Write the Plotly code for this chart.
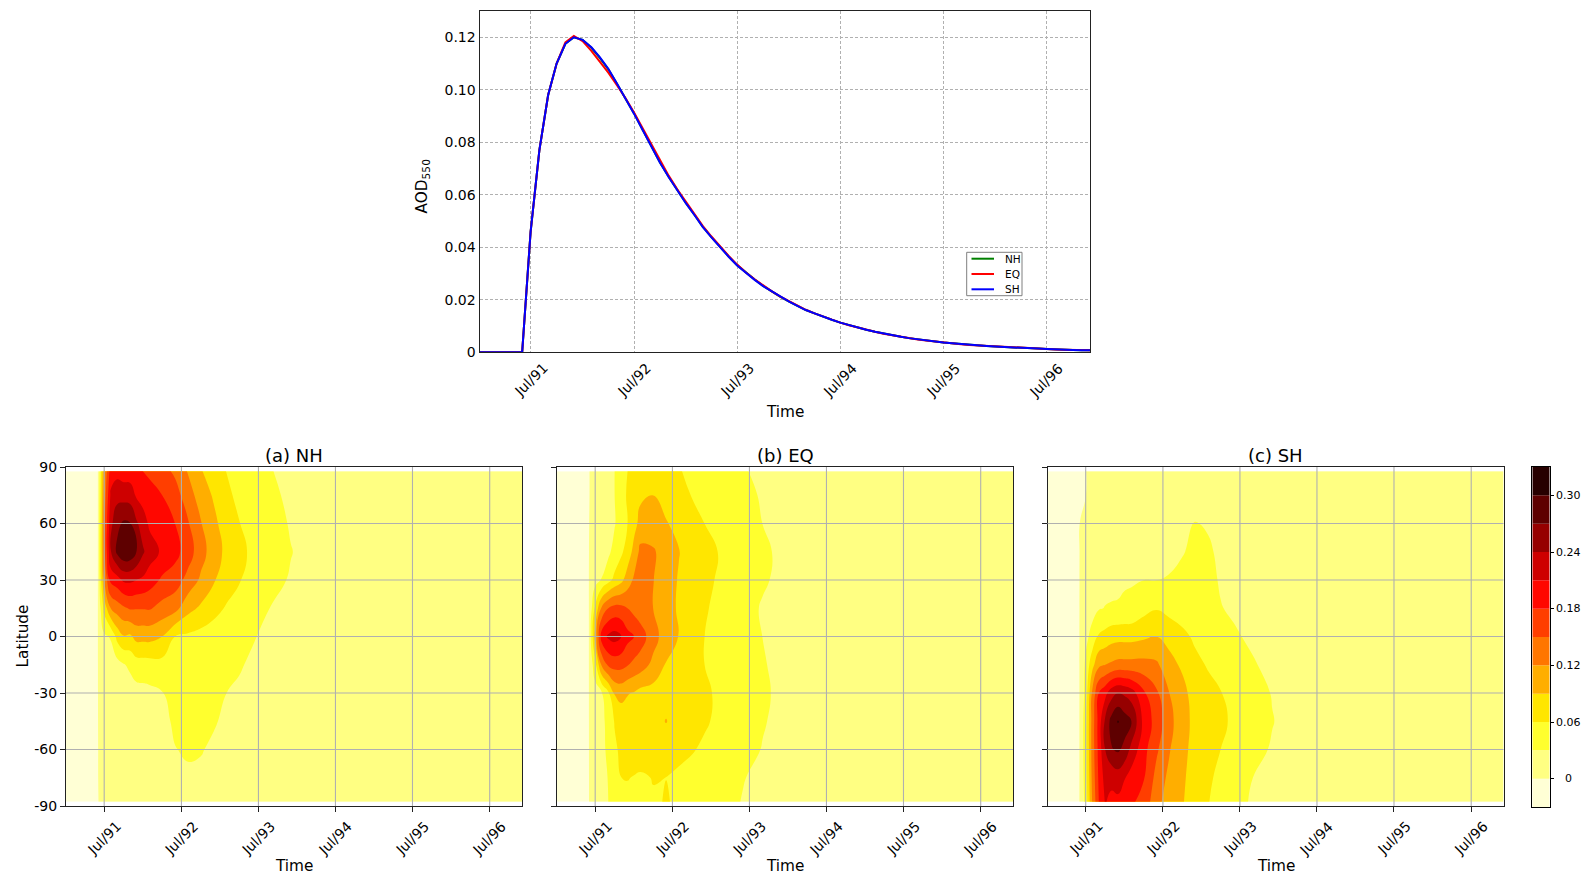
import numpy as np
import pandas as pd
import plotly.graph_objects as go

W, H = 1582, 876
FONT = "DejaVu Sans"


def px_x(v):
    return v / W


def px_y(v):
    return 1 - v / H


# ---------------- global-mean AOD (550 nm), monthly Jan 1991 - Dec 1996 ----------------
months = pd.date_range("1991-01-01", "1996-12-01", freq="MS")

aod_nh = [
    0, 0, 0, 0, 0, 0, 0.0460, 0.0770, 0.0980, 0.1100, 0.1175, 0.1200,
    0.1190, 0.1160, 0.1122, 0.1078, 0.1024, 0.0968, 0.0910, 0.0847, 0.0784, 0.0723, 0.0668, 0.0617,
    0.0568, 0.0522, 0.0479, 0.0439, 0.0402, 0.0365, 0.0332, 0.0303, 0.0277, 0.0253, 0.0231, 0.0211,
    0.0193, 0.0176, 0.0161, 0.0148, 0.0135, 0.0124, 0.0113, 0.0103, 0.0094, 0.0086, 0.0078, 0.0071,
    0.0065, 0.0059, 0.0054, 0.0049, 0.0045, 0.0041, 0.0037, 0.0034, 0.0031, 0.0028, 0.0026, 0.0024,
    0.0022, 0.0020, 0.0018, 0.0016, 0.0015, 0.0014, 0.0013, 0.0011, 0.0010, 0.0009, 0.0008, 0.0008,
]
aod_eq = [
    0, 0, 0, 0, 0, 0, 0.0460, 0.0770, 0.0980, 0.1100, 0.1180, 0.1205,
    0.1185, 0.1148, 0.1108, 0.1065, 0.1018, 0.0968, 0.0913, 0.0852, 0.0789, 0.0728, 0.0672, 0.0621,
    0.0572, 0.0525, 0.0482, 0.0441, 0.0404, 0.0367, 0.0334, 0.0304, 0.0278, 0.0254, 0.0232, 0.0212,
    0.0194, 0.0177, 0.0162, 0.0148, 0.0136, 0.0124, 0.0113, 0.0103, 0.0094, 0.0086, 0.0078, 0.0071,
    0.0065, 0.0059, 0.0054, 0.0049, 0.0045, 0.0041, 0.0037, 0.0034, 0.0031, 0.0028, 0.0026, 0.0024,
    0.0022, 0.0020, 0.0018, 0.0016, 0.0015, 0.0014, 0.0013, 0.0011, 0.0010, 0.0009, 0.0008, 0.0008,
]
aod_sh = [
    0, 0, 0, 0, 0, 0, 0.0460, 0.0770, 0.0980, 0.1100, 0.1175, 0.1200,
    0.1190, 0.1162, 0.1125, 0.1080, 0.1025, 0.0968, 0.0909, 0.0846, 0.0783, 0.0722, 0.0667, 0.0616,
    0.0567, 0.0521, 0.0478, 0.0438, 0.0401, 0.0364, 0.0331, 0.0302, 0.0276, 0.0252, 0.0231, 0.0211,
    0.0193, 0.0176, 0.0161, 0.0148, 0.0135, 0.0124, 0.0113, 0.0103, 0.0094, 0.0086, 0.0078, 0.0071,
    0.0065, 0.0059, 0.0054, 0.0049, 0.0045, 0.0041, 0.0037, 0.0034, 0.0031, 0.0028, 0.0026, 0.0024,
    0.0022, 0.0020, 0.0018, 0.0016, 0.0015, 0.0014, 0.0013, 0.0011, 0.0010, 0.0009, 0.0008, 0.0008,
]
series_names = ["NH", "EQ", "SH"]
series_colors = ["#008000", "#ff0000", "#0000ff"]

# ---------------- zonal-mean AOD (latitude x time) for the three injection cases ----------------
lat_nodes = [-87.8, -75, -60, -45, -30, -15, 0, 15, 30, 45, 60, 75, 87.8]
field_dates = [
    "1991-01-01", "1991-06-01", "1991-07-01", "1991-08-01", "1991-09-01", "1991-10-01",
    "1991-11-01", "1991-12-01", "1992-01-01", "1992-02-01", "1992-04-01", "1992-06-01",
    "1992-08-01", "1992-10-01", "1992-12-01", "1993-02-01", "1993-04-01", "1993-06-01",
    "1993-09-01", "1993-12-01", "1994-04-01", "1996-12-01",
]

# one row per date, values ordered south -> north
field_nh = [
    [0, 0, 0, 0, 0, 0, 0, 0, 0, 0, 0, 0, 0],
    [0, 0, 0, 0, 0, 0, 0, 0, 0, 0, 0, 0, 0],
    [0.001, 0.002, 0.002, 0.003, 0.004, 0.008, 0.025, 0.070, 0.120, 0.140, 0.140, 0.130, 0.120],
    [0.002, 0.003, 0.004, 0.005, 0.008, 0.012, 0.033, 0.120, 0.190, 0.238, 0.232, 0.215, 0.195],
    [0.003, 0.003, 0.004, 0.006, 0.010, 0.019, 0.070, 0.135, 0.198, 0.278, 0.262, 0.230, 0.200],
    [0.003, 0.004, 0.005, 0.008, 0.014, 0.028, 0.088, 0.145, 0.215, 0.296, 0.275, 0.228, 0.195],
    [0.004, 0.005, 0.006, 0.009, 0.016, 0.036, 0.085, 0.153, 0.216, 0.293, 0.272, 0.226, 0.195],
    [0.005, 0.006, 0.008, 0.011, 0.020, 0.046, 0.100, 0.152, 0.210, 0.272, 0.245, 0.206, 0.185],
    [0.005, 0.006, 0.008, 0.012, 0.021, 0.047, 0.100, 0.152, 0.205, 0.244, 0.224, 0.198, 0.180],
    [0.006, 0.007, 0.009, 0.013, 0.023, 0.048, 0.100, 0.153, 0.195, 0.225, 0.205, 0.190, 0.175],
    [0.008, 0.010, 0.013, 0.020, 0.029, 0.050, 0.090, 0.140, 0.175, 0.205, 0.193, 0.180, 0.160],
    [0.015, 0.020, 0.029, 0.036, 0.040, 0.045, 0.060, 0.130, 0.165, 0.190, 0.180, 0.162, 0.145],
    [0.020, 0.025, 0.034, 0.038, 0.042, 0.047, 0.055, 0.100, 0.140, 0.165, 0.153, 0.135, 0.118],
    [0.019, 0.024, 0.032, 0.037, 0.041, 0.045, 0.050, 0.085, 0.115, 0.132, 0.122, 0.105, 0.092],
    [0.016, 0.020, 0.025, 0.033, 0.038, 0.041, 0.045, 0.070, 0.093, 0.105, 0.097, 0.087, 0.078],
    [0.012, 0.015, 0.019, 0.024, 0.030, 0.036, 0.042, 0.057, 0.074, 0.082, 0.076, 0.067, 0.059],
    [0.011, 0.013, 0.016, 0.021, 0.027, 0.032, 0.036, 0.047, 0.062, 0.068, 0.061, 0.052, 0.045],
    [0.010, 0.011, 0.014, 0.018, 0.023, 0.027, 0.032, 0.041, 0.051, 0.055, 0.049, 0.042, 0.037],
    [0.008, 0.009, 0.011, 0.014, 0.017, 0.020, 0.024, 0.029, 0.037, 0.042, 0.040, 0.035, 0.031],
    [0.006, 0.007, 0.009, 0.011, 0.013, 0.015, 0.018, 0.022, 0.028, 0.031, 0.028, 0.025, 0.022],
    [0.005, 0.006, 0.007, 0.008, 0.009, 0.011, 0.012, 0.015, 0.019, 0.020, 0.019, 0.017, 0.015],
    [0.001, 0.001, 0.001, 0.001, 0.001, 0.001, 0.001, 0.001, 0.001, 0.001, 0.001, 0.001, 0.001],
]
field_eq = [
    [0, 0, 0, 0, 0, 0, 0, 0, 0, 0, 0, 0, 0],
    [0, 0, 0, 0, 0, 0, 0, 0, 0, 0, 0, 0, 0],
    [0.004, 0.005, 0.007, 0.009, 0.016, 0.050, 0.100, 0.065, 0.020, 0.005, 0.002, 0.001, 0.001],
    [0.012, 0.015, 0.020, 0.022, 0.028, 0.125, 0.195, 0.125, 0.032, 0.012, 0.005, 0.004, 0.003],
    [0.030, 0.032, 0.038, 0.040, 0.055, 0.155, 0.215, 0.150, 0.050, 0.024, 0.015, 0.013, 0.012],
    [0.045, 0.050, 0.055, 0.062, 0.093, 0.162, 0.222, 0.160, 0.068, 0.040, 0.028, 0.030, 0.030],
    [0.052, 0.060, 0.066, 0.072, 0.100, 0.160, 0.212, 0.158, 0.082, 0.055, 0.045, 0.050, 0.048],
    [0.054, 0.061, 0.070, 0.075, 0.092, 0.152, 0.190, 0.150, 0.105, 0.072, 0.060, 0.063, 0.060],
    [0.055, 0.059, 0.071, 0.076, 0.088, 0.142, 0.180, 0.140, 0.125, 0.100, 0.080, 0.075, 0.068],
    [0.055, 0.057, 0.072, 0.077, 0.080, 0.135, 0.165, 0.132, 0.128, 0.128, 0.100, 0.085, 0.075],
    [0.058, 0.061, 0.072, 0.078, 0.078, 0.112, 0.132, 0.120, 0.121, 0.124, 0.100, 0.090, 0.077],
    [0.061, 0.060, 0.070, 0.0915, 0.076, 0.088, 0.105, 0.100, 0.102, 0.105, 0.092, 0.080, 0.069],
    [0.058, 0.056, 0.066, 0.075, 0.074, 0.078, 0.089, 0.087, 0.088, 0.091, 0.082, 0.070, 0.062],
    [0.050, 0.052, 0.062, 0.070, 0.070, 0.068, 0.073, 0.075, 0.076, 0.080, 0.071, 0.059, 0.054],
    [0.045, 0.047, 0.056, 0.063, 0.064, 0.060, 0.060, 0.063, 0.066, 0.070, 0.060, 0.052, 0.048],
    [0.040, 0.042, 0.050, 0.056, 0.057, 0.054, 0.051, 0.054, 0.058, 0.060, 0.052, 0.046, 0.042],
    [0.034, 0.037, 0.044, 0.049, 0.050, 0.047, 0.044, 0.046, 0.050, 0.052, 0.045, 0.041, 0.037],
    [0.029, 0.031, 0.039, 0.043, 0.044, 0.040, 0.038, 0.039, 0.043, 0.045, 0.040, 0.036, 0.032],
    [0.023, 0.025, 0.029, 0.032, 0.034, 0.032, 0.030, 0.028, 0.033, 0.034, 0.030, 0.028, 0.025],
    [0.018, 0.019, 0.022, 0.024, 0.025, 0.024, 0.022, 0.023, 0.025, 0.026, 0.023, 0.021, 0.019],
    [0.012, 0.013, 0.015, 0.016, 0.017, 0.016, 0.015, 0.016, 0.017, 0.018, 0.016, 0.014, 0.013],
    [0.001, 0.001, 0.001, 0.001, 0.001, 0.001, 0.001, 0.001, 0.001, 0.001, 0.001, 0.001, 0.001],
]
field_sh = [
    [0, 0, 0, 0, 0, 0, 0, 0, 0, 0, 0, 0, 0],
    [0, 0, 0, 0, 0, 0, 0, 0, 0, 0, 0, 0, 0],
    [0.040, 0.045, 0.048, 0.048, 0.040, 0.036, 0.022, 0.010, 0.006, 0.004, 0.002, 0, 0],
    [0.122, 0.128, 0.132, 0.132, 0.125, 0.080, 0.040, 0.020, 0.012, 0.008, 0.005, 0.003, 0.002],
    [0.180, 0.185, 0.190, 0.192, 0.180, 0.113, 0.064, 0.028, 0.020, 0.014, 0.010, 0.007, 0.005],
    [0.212, 0.222, 0.240, 0.245, 0.200, 0.120, 0.070, 0.031, 0.022, 0.017, 0.013, 0.010, 0.007],
    [0.203, 0.218, 0.268, 0.282, 0.228, 0.125, 0.078, 0.032, 0.024, 0.018, 0.015, 0.011, 0.008],
    [0.203, 0.225, 0.275, 0.302, 0.240, 0.130, 0.080, 0.032, 0.026, 0.020, 0.016, 0.012, 0.009],
    [0.193, 0.212, 0.262, 0.285, 0.235, 0.130, 0.080, 0.035, 0.027, 0.021, 0.017, 0.013, 0.010],
    [0.185, 0.198, 0.232, 0.272, 0.225, 0.130, 0.080, 0.036, 0.028, 0.022, 0.018, 0.014, 0.011],
    [0.170, 0.182, 0.190, 0.200, 0.185, 0.130, 0.085, 0.050, 0.030, 0.024, 0.020, 0.016, 0.013],
    [0.130, 0.140, 0.155, 0.168, 0.155, 0.125, 0.090, 0.058, 0.030, 0.026, 0.022, 0.018, 0.015],
    [0.105, 0.112, 0.122, 0.128, 0.120, 0.100, 0.080, 0.050, 0.031, 0.027, 0.023, 0.019, 0.016],
    [0.093, 0.096, 0.100, 0.104, 0.100, 0.085, 0.066, 0.048, 0.035, 0.029, 0.024, 0.020, 0.017],
    [0.070, 0.074, 0.078, 0.080, 0.076, 0.066, 0.056, 0.045, 0.040, 0.034, 0.031, 0.022, 0.018],
    [0.061, 0.064, 0.068, 0.070, 0.067, 0.058, 0.048, 0.040, 0.036, 0.033, 0.028, 0.021, 0.017],
    [0.050, 0.054, 0.060, 0.065, 0.061, 0.050, 0.040, 0.031, 0.028, 0.026, 0.022, 0.018, 0.015],
    [0.042, 0.046, 0.051, 0.056, 0.052, 0.042, 0.033, 0.027, 0.024, 0.022, 0.019, 0.016, 0.013],
    [0.026, 0.030, 0.037, 0.042, 0.039, 0.032, 0.026, 0.021, 0.019, 0.017, 0.015, 0.013, 0.011],
    [0.020, 0.023, 0.028, 0.031, 0.029, 0.024, 0.020, 0.017, 0.015, 0.014, 0.012, 0.010, 0.009],
    [0.013, 0.015, 0.018, 0.020, 0.019, 0.016, 0.013, 0.011, 0.010, 0.009, 0.008, 0.007, 0.006],
    [0.001, 0.001, 0.001, 0.001, 0.001, 0.001, 0.001, 0.001, 0.001, 0.001, 0.001, 0.001, 0.001],
]
panel_titles = ["(a) NH", "(b) EQ", "(c) SH"]

# ---------------- shading levels (hot_r, 12 classes) and ticks ----------------
levels = [-0.03, 0.0, 0.03, 0.06, 0.09, 0.12, 0.15, 0.18, 0.21, 0.24, 0.27, 0.30, 0.33]
band_colors = [
    "rgb(255,255,213)", "rgb(255,255,130)", "rgb(255,255,46)", "rgb(255,230,0)",
    "rgb(255,174,0)", "rgb(255,118,0)", "rgb(255,62,0)", "rgb(255,7,0)",
    "rgb(206,0,0)", "rgb(150,0,0)", "rgb(94,0,0)", "rgb(39,0,0)",
]
cbar_ticks = [0, 0.06, 0.12, 0.18, 0.24, 0.30]
cbar_tick_text = ["0", "0.06", "0.12", "0.18", "0.24", "0.30"]

tick_dates = ["1991-07-01", "1992-07-01", "1993-07-01", "1994-07-01", "1995-07-01", "1996-07-01"]
tick_text = ["Jul/91", "Jul/92", "Jul/93", "Jul/94", "Jul/95", "Jul/96"]
time_range = ["1991-01-01", "1996-12-01"]
lat_ticks = [-90, -60, -30, 0, 30, 60, 90]
lat_tick_text = ["-90", "-60", "-30", "0", "30", "60", "90"]
aod_ticks = [0, 0.02, 0.04, 0.06, 0.08, 0.10, 0.12]
aod_tick_text = ["0", "0.02", "0.04", "0.06", "0.08", "0.10", "0.12"]

# ---------------- layout geometry (pixels) ----------------
top_box = dict(x0=479.5, x1=1090.0, y0=11.0, y1=352.3)
panel_boxes = [
    dict(x0=66.0, x1=522.0, y0=467.0, y1=806.0),
    dict(x0=557.0, x1=1013.0, y0=467.0, y1=806.0),
    dict(x0=1047.5, x1=1503.5, y0=467.0, y1=806.0),
]
cbar_box = dict(x0=1532.3, x1=1549.7, y0=467.0, y1=807.0)

GRID = "#b0b0b0"
AXLINE = "#222222"
TICK_SIZE = 14
LABEL_SIZE = 15.3
TITLE_SIZE = 18

fig = go.Figure()

# ---- top panel: global-mean AOD time series ----
for name, vals, col in zip(series_names, [aod_nh, aod_eq, aod_sh], series_colors):
    fig.add_trace(go.Scatter(
        x=months, y=vals, mode="lines", name=name,
        line=dict(color=col, width=2), showlegend=False,
        xaxis="x", yaxis="y", hoverinfo="skip",
    ))

# ---- contour panels ----
# step colour scale: class b (0 = below first level) sits at fraction b / 11
n_cls = len(band_colors)
step_scale = []
for b, c in enumerate(band_colors):
    lo = max(0.0, (b - 0.5) / (n_cls - 1))
    hi = min(1.0, (b + 0.5) / (n_cls - 1))
    step_scale.append([lo, c])
    step_scale.append([hi, c])

for i, field in enumerate([field_nh, field_eq, field_sh]):
    z = np.array(field).T  # rows = latitude, cols = time
    fig.add_trace(go.Contour(
        x=field_dates, y=lat_nodes, z=z,
        xaxis=f"x{i + 2}", yaxis=f"y{i + 2}",
        contours=dict(start=levels[1] + 1e-4, end=levels[-2] + 1e-4,
                      size=levels[2] - levels[1], coloring="fill", showlines=False),
        colorscale=step_scale, showscale=False,
        line=dict(width=0, smoothing=1.3),
        hoverinfo="skip",
    ))

# ---- colour bar built from the class boundaries ----
fig.add_trace(go.Bar(
    x=[0] * n_cls, y=list(np.diff(levels)), base=levels[:-1],
    marker=dict(color=band_colors, line=dict(width=0)), width=1.0,
    xaxis="x5", yaxis="y5", showlegend=False, hoverinfo="skip",
))

layout = dict(
    width=W, height=H,
    margin=dict(l=0, r=0, t=0, b=0, pad=0, autoexpand=False),
    paper_bgcolor="white", plot_bgcolor="white",
    font=dict(family=FONT, size=TICK_SIZE, color="black"),
    barmode="overlay",
    showlegend=False,
)

common_axis = dict(showline=True, mirror=True, linecolor=AXLINE, linewidth=1,
                   ticks="outside", ticklen=5, tickwidth=1, tickcolor=AXLINE,
                   zeroline=False, automargin=False)

layout["xaxis"] = dict(common_axis, domain=[px_x(top_box["x0"]), px_x(top_box["x1"])],
                       anchor="y", type="date", range=time_range, ticks="",
                       tickvals=tick_dates, showticklabels=False,
                       showgrid=True, gridcolor=GRID, gridwidth=1, griddash="3px,2px")
layout["yaxis"] = dict(common_axis, domain=[px_y(top_box["y1"]), px_y(top_box["y0"])],
                       anchor="x", range=[0, 0.13], ticks="",
                       tickvals=aod_ticks, ticktext=aod_tick_text,
                       tickfont=dict(size=TICK_SIZE),
                       showgrid=True, gridcolor=GRID, gridwidth=1, griddash="3px,2px")

for i, box in enumerate(panel_boxes):
    xa, ya = f"xaxis{i + 2}", f"yaxis{i + 2}"
    layout[xa] = dict(common_axis, domain=[px_x(box["x0"]), px_x(box["x1"])],
                      anchor=f"y{i + 2}", type="date", range=time_range,
                      tickvals=tick_dates, showticklabels=False, showgrid=False)
    layout[ya] = dict(common_axis, domain=[px_y(box["y1"]), px_y(box["y0"])],
                      anchor=f"x{i + 2}", range=[-90, 90],
                      tickvals=lat_ticks, ticktext=lat_tick_text,
                      showticklabels=(i == 0), tickfont=dict(size=TICK_SIZE),
                      showgrid=False)

layout["xaxis5"] = dict(domain=[px_x(cbar_box["x0"]), px_x(cbar_box["x1"])], anchor="y5",
                        range=[-0.5, 0.5], showticklabels=False, ticks="",
                        showline=True, mirror=True, linecolor="black", linewidth=1,
                        showgrid=False, zeroline=False, automargin=False)
layout["yaxis5"] = dict(domain=[px_y(cbar_box["y1"]), px_y(cbar_box["y0"])], anchor="x5",
                        range=[levels[0], levels[-1]], side="right",
                        tickvals=cbar_ticks, showticklabels=False,
                        ticks="outside", ticklen=3, tickwidth=1, tickcolor="black",
                        showline=True, mirror=True, linecolor="black", linewidth=1,
                        showgrid=False, zeroline=False, automargin=False)

shapes = []
annotations = []

# grid lines drawn on top of the shaded fields
for i in range(3):
    xr, yr = f"x{i + 2}", f"y{i + 2}"
    for d in tick_dates:
        shapes.append(dict(type="line", xref=xr, yref=f"{yr} domain", x0=d, x1=d, y0=0, y1=1,
                           line=dict(color=GRID, width=1.1), layer="above"))
    for lt in lat_ticks[1:-1]:
        shapes.append(dict(type="line", xref=f"{xr} domain", yref=yr, x0=0, x1=1, y0=lt, y1=lt,
                           line=dict(color=GRID, width=1.1), layer="above"))

# rotated date labels
for xr, top_px in [("x", 357.5), ("x2", 815.5), ("x3", 815.5), ("x4", 815.5)]:
    for d, t in zip(tick_dates, tick_text):
        annotations.append(dict(text=t, x=d, xref=xr, y=px_y(top_px), yref="paper",
                                xanchor="center", yanchor="top", textangle=-45,
                                showarrow=False, font=dict(size=TICK_SIZE)))

# axis titles
annotations.append(dict(text="Time", x=px_x(785), y=px_y(411.5), xref="paper", yref="paper",
                        xanchor="center", yanchor="middle", showarrow=False,
                        font=dict(size=LABEL_SIZE)))
for box in panel_boxes:
    cx = (box["x0"] + box["x1"]) / 2
    annotations.append(dict(text="Time", x=px_x(cx), y=px_y(865.5), xref="paper", yref="paper",
                            xanchor="center", yanchor="middle", showarrow=False,
                            font=dict(size=LABEL_SIZE)))
annotations.append(dict(text="AOD<sub>550</sub>", x=px_x(422.5), y=px_y(186), xref="paper",
                        yref="paper", xanchor="center", yanchor="middle", textangle=-90,
                        showarrow=False, font=dict(size=LABEL_SIZE)))
annotations.append(dict(text="Latitude", x=px_x(22), y=px_y(636.5), xref="paper", yref="paper",
                        xanchor="center", yanchor="middle", textangle=-90,
                        showarrow=False, font=dict(size=LABEL_SIZE)))
for box, title in zip(panel_boxes, panel_titles):
    cx = (box["x0"] + box["x1"]) / 2
    annotations.append(dict(text=title, x=px_x(cx), y=px_y(455), xref="paper", yref="paper",
                            xanchor="center", yanchor="middle", showarrow=False,
                            font=dict(size=TITLE_SIZE)))

# colour-bar labels
for v, t in zip(cbar_ticks, cbar_tick_text):
    annotations.append(dict(text=t, x=px_x(1568), y=v, xref="paper", yref="y5",
                            xanchor="center", yanchor="middle", showarrow=False,
                            font=dict(size=11)))

# legend box for the time-series panel
leg = dict(x0=966.7, x1=1022.0, y0=252.3, y1=295.7)
shapes.append(dict(type="rect", xref="paper", yref="paper",
                   x0=px_x(leg["x0"]), x1=px_x(leg["x1"]), y0=px_y(leg["y1"]), y1=px_y(leg["y0"]),
                   line=dict(color="#7f7f7f", width=1), fillcolor="white", layer="above"))
for k, (name, col) in enumerate(zip(series_names, series_colors)):
    ypx = 258.7 + k * 15.3
    shapes.append(dict(type="line", xref="paper", yref="paper",
                       x0=px_x(971.5), x1=px_x(994.0), y0=px_y(ypx), y1=px_y(ypx),
                       line=dict(color=col, width=2), layer="above"))
    annotations.append(dict(text=name, x=px_x(1003.0), y=px_y(ypx), xref="paper", yref="paper",
                            xanchor="left", yanchor="middle", showarrow=False,
                            font=dict(size=10.5)))

layout["shapes"] = shapes
layout["annotations"] = annotations
fig.update_layout(**layout)

fig.write_html("out.html")
